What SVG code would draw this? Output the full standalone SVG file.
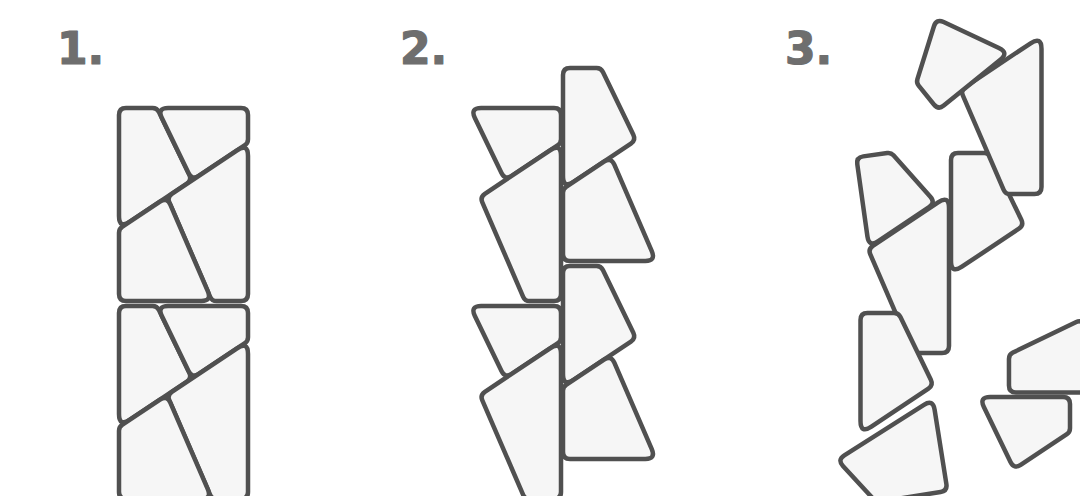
<svg xmlns="http://www.w3.org/2000/svg" xmlns:xlink="http://www.w3.org/1999/xlink" width="1080" height="496" viewBox="0 0 1080 496">
  <style>
    .pc { fill: #f6f6f6; stroke: #505050; stroke-width: 4.5; stroke-linejoin: round; }
    .lbl { font-family: "DejaVu Sans", "Liberation Sans", sans-serif; font-weight: bold; font-size: 44px; fill: #6e6e6e; stroke: #6e6e6e; stroke-width: 1.2; stroke-linejoin: round; }
  </style>
  <defs>
    <path id="s1" class="pc" d="M0,7 Q0,0 7,0 L33.6,0 Q38,0 39.92,3.96 L70.34,66.81 Q73,72.3 67.92,75.68 L10.9,113.73 Q0,121 0,107.9 Z"/>
    <path id="s2" class="pc" d="M42.88,10.08 Q38,0 49.2,0 L122,0 Q129,0 129,7 L129,31.25 Q129,35 125.88,37.08 L79.69,67.84 Q73,72.3 69.5,65.06 Z"/>
    <path id="s3" class="pc" d="M50.32,94.36 Q48,89 52.86,85.76 L118.1,42.27 Q129,35 129,48.1 L129,186 Q129,193 122,193 L97.6,193 Q93,193 91.17,188.78 Z"/>
    <path id="s4" class="pc" d="M0,124.75 Q0,121 3.12,118.92 L41.02,93.65 Q48,89 51.33,96.7 L88.77,183.22 Q93,193 82.35,193 L7,193 Q0,193 0,186 Z"/>
  </defs>
  <rect width="1080" height="496" fill="#ffffff"/>

  <g id="labels">
    <text class="lbl" x="57" y="63.5">1.</text>
    <text class="lbl" x="400" y="63.5">2.</text>
    <text class="lbl" x="785" y="63.5">3.</text>
  </g>

  <g id="panel1">
    <g id="p1-b1-a"><use href="#s1" xlink:href="#s1" transform="translate(119,108)"/></g>
    <g id="p1-b1-b"><use href="#s2" xlink:href="#s2" transform="translate(119,108)"/></g>
    <g id="p1-b1-c"><use href="#s3" xlink:href="#s3" transform="translate(119,108)"/></g>
    <g id="p1-b1-d"><use href="#s4" xlink:href="#s4" transform="translate(119,108)"/></g>
    <g id="p1-b2-a"><use href="#s1" xlink:href="#s1" transform="translate(119,306)"/></g>
    <g id="p1-b2-b"><use href="#s2" xlink:href="#s2" transform="translate(119,306)"/></g>
    <g id="p1-b2-c"><use href="#s3" xlink:href="#s3" transform="translate(119,306)"/></g>
    <g id="p1-b2-d"><use href="#s4" xlink:href="#s4" transform="translate(119,306)"/></g>
  </g>

  <g id="panel2">
    <g id="p2-b1-b"><use href="#s2" xlink:href="#s2" transform="translate(432,108)"/></g>
    <g id="p2-b1-c"><use href="#s3" xlink:href="#s3" transform="translate(432,108)"/></g>
    <g id="p2-b1-a"><use href="#s1" xlink:href="#s1" transform="translate(563,68)"/></g>
    <g id="p2-b1-d"><use href="#s4" xlink:href="#s4" transform="translate(563,68)"/></g>
    <g id="p2-b2-b"><use href="#s2" xlink:href="#s2" transform="translate(432,306)"/></g>
    <g id="p2-b2-c"><use href="#s3" xlink:href="#s3" transform="translate(432,306)"/></g>
    <g id="p2-b2-a"><use href="#s1" xlink:href="#s1" transform="translate(563,266)"/></g>
    <g id="p2-b2-d"><use href="#s4" xlink:href="#s4" transform="translate(563,266)"/></g>
  </g>

  <g id="panel3">
    <g id="p3-c"><use href="#s1" xlink:href="#s1" transform="translate(951,153)"/></g>
    <g id="p3-e"><use href="#s3" xlink:href="#s3" transform="translate(820,160)"/></g>
    <g id="p3-d"><use href="#s2" xlink:href="#s2" transform="translate(888,190) rotate(-98) translate(-92.25,-26.83)"/></g>
    <g id="p3-b"><use href="#s3" xlink:href="#s3" transform="translate(912.5,1)"/></g>
    <g id="p3-a"><use href="#s2" xlink:href="#s2" transform="translate(950,66) rotate(141) translate(-92.25,-26.83)"/></g>
    <g id="p3-f"><use href="#s1" xlink:href="#s1" transform="translate(860.5,313)"/></g>
    <g id="p3-g"><use href="#s4" xlink:href="#s4" transform="translate(898.5,463) rotate(-99) translate(-35.25,-149)"/></g>
    <g id="p3-h"><use href="#s1" xlink:href="#s1" transform="translate(1057.3,364.75) rotate(-90) translate(-27.75,-48.33)"/></g>
    <g id="p3-i"><use href="#s2" xlink:href="#s2" transform="translate(941,397)"/></g>
  </g>
</svg>
